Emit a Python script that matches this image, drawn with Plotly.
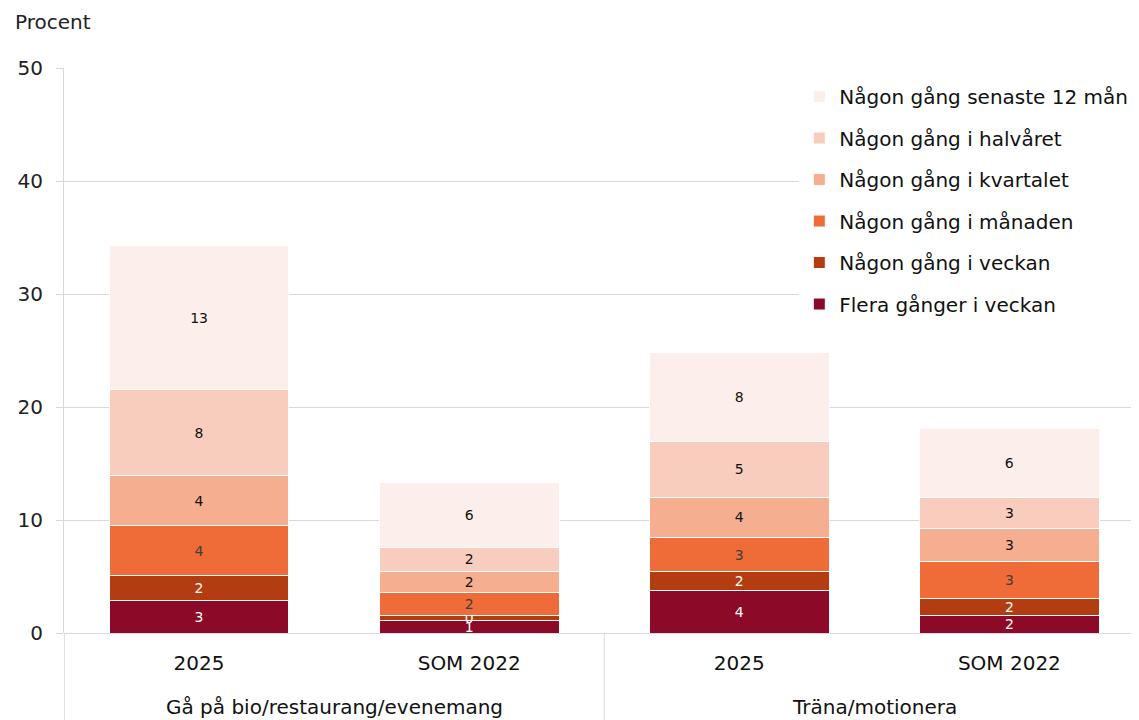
import plotly.graph_objects as go

groups = ["Gå på bio/restaurang/evenemang", "Gå på bio/restaurang/evenemang", "Träna/motionera", "Träna/motionera"]
periods = ["2025", "SOM 2022", "2025", "SOM 2022"]

series_names = [
    "Flera gånger i veckan",
    "Någon gång i veckan",
    "Någon gång i månaden",
    "Någon gång i kvartalet",
    "Någon gång i halvåret",
    "Någon gång senaste 12 mån",
]
flera = [2.88, 1.11, 3.74, 1.56]
veckan = [2.21, 0.42, 1.71, 1.52]
manaden = [4.42, 2.06, 2.98, 3.22]
kvartalet = [4.42, 1.89, 3.60, 2.92]
halvaret = [7.58, 2.12, 4.92, 2.80]
senaste12 = [12.76, 5.71, 7.87, 6.05]
values = [flera, veckan, manaden, kvartalet, halvaret, senaste12]

colors = ["#8C0A27", "#B33C11", "#EF6B37", "#F5AE90", "#F8CDBE", "#FCEEEA"]
text_colors = ["#FFFFFF", "#FFFFFF", "#404040", "#111111", "#111111", "#111111"]

y_ticks = [0, 10, 20, 30, 40, 50]

FONT = "DejaVu Sans"
GRID = "#D9D9D9"

keys = [f"{g} | {p}" for g, p in zip(groups, periods)]

fig = go.Figure()
n = len(series_names)
for i, (name, vals, c, tc) in enumerate(zip(series_names, values, colors, text_colors)):
    fig.add_trace(go.Bar(
        x=keys, y=vals, name=name, legendgroup=f"g{i}", legendrank=1000 + n - i,
        marker=dict(color=c, line=dict(color="#FFFFFF", width=1)),
        texttemplate="%{y:.0f}", textposition="inside", insidetextanchor="middle",
        constraintext="none", textangle=0,
        textfont=dict(family=FONT, size=14, color=tc),
        hoverinfo="skip",
    ))

fig.update_layout(
    barmode="stack",
    bargap=0.334,
    width=1131, height=712,
    margin=dict(l=56, r=0, t=60, b=87),
    plot_bgcolor="white", paper_bgcolor="white",
    font=dict(family=FONT, color="#222222"),
    legend=dict(
        traceorder="grouped",
        x=0.684, y=0.984, xanchor="left", yanchor="top",
        bgcolor="white",
        font=dict(family=FONT, size=20, color="#111111"),
        tracegroupgap=12.5, itemwidth=30,
    ),
    showlegend=True,
)
fig.update_yaxes(
    range=[0, 50], tickvals=y_ticks, automargin=False,
    showgrid=True, gridcolor=GRID, gridwidth=1,
    zeroline=True, zerolinecolor=GRID, zerolinewidth=1,
    showline=True, linecolor=GRID, linewidth=1,
    ticks="outside", ticklen=7, tickcolor=GRID,
    tickfont=dict(family=FONT, size=20, color="#222222"),
    ticklabelstandoff=9,
)
fig.update_xaxes(
    type="category", range=[-0.5, 3.48], automargin=False,
    tickvals=keys, ticktext=periods,
    showline=False, showgrid=False, ticks="", ticklabelstandoff=16,
    tickfont=dict(family=FONT, size=20, color="#111111"),
)

# group labels and dividers below the axis
unique_groups = list(dict.fromkeys(groups))
bottom = -fig.layout.margin.b / (fig.layout.height - fig.layout.margin.t - fig.layout.margin.b)
for g in unique_groups:
    idx = [i for i, gg in enumerate(groups) if gg == g]
    fig.add_annotation(
        text=g, xref="x", yref="paper", x=sum(idx) / len(idx), y=-0.131,
        xanchor="center", yanchor="middle", showarrow=False,
        font=dict(family=FONT, size=20, color="#111111"),
    )
    start = min(idx) - 0.5
    fig.add_shape(
        type="line", xref="x", yref="paper",
        x0=max(start, -0.499), x1=max(start, -0.499), y0=0, y1=bottom,
        line=dict(color=GRID, width=1),
    )

fig.add_annotation(
    text="Procent", xref="paper", yref="paper",
    x=-0.0477, y=1.0814, xanchor="left", yanchor="middle",
    showarrow=False, font=dict(family=FONT, size=20, color="#222222"),
)

fig.write_html("out.html")
